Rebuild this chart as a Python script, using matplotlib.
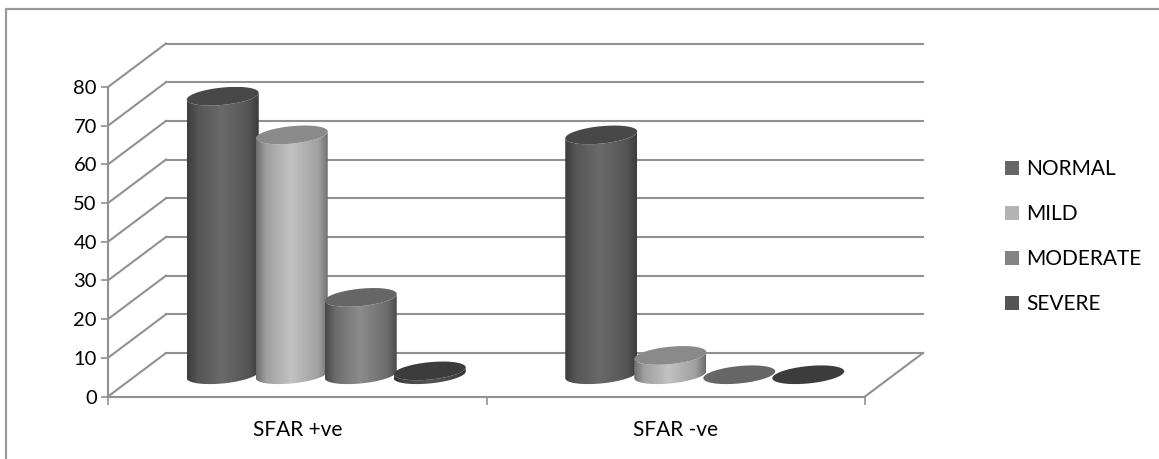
import matplotlib
matplotlib.use("Agg")
import matplotlib.pyplot as plt
import numpy as np
from matplotlib.colors import LinearSegmentedColormap
from matplotlib.lines import Line2D
from matplotlib.patches import Patch, PathPatch, Polygon
from matplotlib.path import Path

plt.rcParams['font.family'] = ['Lato', 'DejaVu Sans']

categories = ["SFAR +ve", "SFAR -ve"]
series_names = ["NORMAL", "MILD", "MODERATE", "SEVERE"]
normal = [72, 62]
mild = [62, 5]
moderate = [20, 0]
severe = [1, 0]
y_ticks = [0, 10, 20, 30, 40, 50, 60, 70, 80]

# (edge, shoulder, centre, top) shades of each cylinder
shades = [("#3c3c3c", "#555555", "#6a6a6a", "#484848"),
          ("#6e6e6e", "#a0a0a0", "#c2c2c2", "#8a8a8a"),
          ("#484848", "#6c6c6c", "#8c8c8c", "#666666"),
          ("#2e2e2e", "#444444", "#555555", "#3c3c3c")]
legend_colors = ["#666666", "#b3b3b3", "#848484", "#555555"]
GRID = "#919191"

W, H = 1159, 459
LEFT, RIGHT, TOP, BOTTOM = 108, 865, 87, 396.5
PX_X = 2 / (RIGHT - LEFT)
PX_Y = 80 / (BOTTOM - TOP)
DEPTH_X = 58 * PX_X
DEPTH_Y = 43.5 * PX_Y
BAR_STEP = 69 * PX_X
HALF_W = 36 * PX_X
ELL_B = 8.7 * PX_Y
ELL_TILT = 3.4 * PX_Y


def ellipse(cx, cy, start=0.0, stop=2 * np.pi):
    t = np.linspace(start, stop, 60)
    return cx + HALF_W * np.cos(t), cy + ELL_B * np.sin(t) + ELL_TILT * np.cos(t)


def draw_cylinder(ax, cx, base, value, shade, z):
    cy = base + value
    if value > 0:
        # lower half of the base, then back across the lower half of the top
        x1, y1 = ellipse(cx, base, np.pi, 2 * np.pi)
        x2, y2 = ellipse(cx, cy, np.pi, 2 * np.pi)
        verts = np.column_stack([np.r_[x1, x2[::-1]], np.r_[y1, y2[::-1]]])
        outline = PathPatch(Path(np.vstack([verts, verts[0]])), fc="none", ec="none", zorder=z)
        ax.add_patch(outline)
        stops = [(0, shade[0]), (0.14, shade[1]), (0.48, shade[2]), (0.86, shade[1]), (1, shade[0])]
        cmap = LinearSegmentedColormap.from_list("c", stops)
        img = ax.imshow(np.linspace(0, 1, 128)[None, :], cmap=cmap, aspect="auto", zorder=z,
                        extent=[cx - HALF_W, cx + HALF_W, base - 2 * ELL_B, cy + 2 * ELL_B],
                        interpolation="bilinear")
        img.set_clip_path(outline)
    x, y = ellipse(cx, cy)
    ax.add_patch(Polygon(np.column_stack([x, y]), fc=shade[3], ec="none", zorder=z + 0.5))


fig = plt.figure(figsize=(W / 100, H / 100), dpi=100)
ax = fig.add_axes([LEFT / W, 1 - BOTTOM / H, (RIGHT - LEFT) / W, (BOTTOM - TOP) / H])
ax.patch.set_visible(False)

for v in y_ticks:
    ax.plot([0, DEPTH_X], [v, v + DEPTH_Y], color=GRID, lw=1.5, clip_on=False, zorder=1)
    ax.plot([DEPTH_X, 2 + DEPTH_X], [v + DEPTH_Y, v + DEPTH_Y], color=GRID, lw=1.5,
            clip_on=False, zorder=1)
ax.plot([2, 2 + DEPTH_X], [0, DEPTH_Y], color=GRID, lw=1.5, clip_on=False, zorder=1)

all_values = [normal, mild, moderate, severe]
for c in range(len(categories)):
    for s, values in enumerate(all_values):
        cx = c + 0.5 + DEPTH_X / 2 + (s - 1.5) * BAR_STEP
        draw_cylinder(ax, cx, DEPTH_Y / 2, values[c], shades[s], 3 + c * 4 + s)

ax.set_xlim(0, 2)
ax.set_ylim(0, 80)
for side in ("top", "right"):
    ax.spines[side].set_visible(False)
for side in ("left", "bottom"):
    ax.spines[side].set_color(GRID)
    ax.spines[side].set_linewidth(1.5)
ax.set_yticks(y_ticks)
ax.set_xticks([0, 1, 2])
ax.set_xticklabels([])
ax.set_xticks([0.5, 1.5], categories, minor=True)
ax.tick_params(axis="x", which="major", length=5.5, width=1.2, color=GRID)
ax.tick_params(axis="x", which="minor", length=0, pad=17, labelsize=15)
ax.tick_params(axis="y", length=5, width=1.2, color=GRID, labelsize=14.5, pad=3)

handles = [Patch(fc=col, ec="none", label=name) for col, name in zip(legend_colors, series_names)]
fig.legend(handles=handles, loc="center left", bbox_to_anchor=(1005 / W, 1 - 236.5 / H),
           frameon=False, fontsize=15, handlelength=0.67, handleheight=0.67,
           handletextpad=0.33, labelspacing=1.2, borderpad=0, borderaxespad=0)

# the frame of the source picture only shows on its top and left sides
fig.add_artist(Line2D([6 / W, 6 / W, 1], [0, 1 - 8.5 / H, 1 - 8.5 / H], transform=fig.transFigure,
                      color="#9a9a9a", lw=1.6))
fig.savefig("out.png", dpi=100)
